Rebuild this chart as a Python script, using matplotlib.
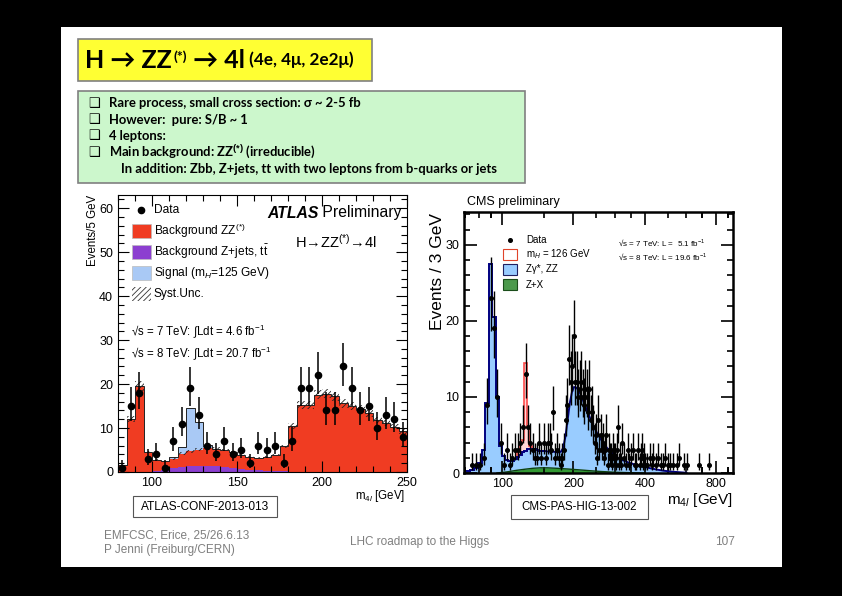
import numpy as np
import matplotlib.pyplot as plt
from matplotlib.patches import Rectangle
from matplotlib.ticker import MultipleLocator, FixedLocator, FixedFormatter, NullFormatter, LogLocator

plt.rcParams['mathtext.fontset'] = 'custom'
plt.rcParams['mathtext.rm'] = 'Liberation Sans'
plt.rcParams['mathtext.it'] = 'Liberation Sans:italic'
plt.rcParams['mathtext.bf'] = 'Liberation Sans:bold'
plt.rcParams['font.family'] = ['Liberation Sans', 'DejaVu Sans']
plt.rcParams['hatch.linewidth'] = 0.6

W, H = 842, 596

# ---- ATLAS (left panel), 5 GeV bins from 80 to 250 ----
atlas_edges = np.arange(80, 255, 5)
atlas_bkg = [1.5, 12.1, 19.5, 4.6, 2.7, 2.4, 3.0, 4.2, 4.7, 5.1, 5.5, 5.3, 5.0, 4.6, 3.8, 3.4, 3.2,
             3.4, 3.8, 5.9, 10.5, 15.3, 15.3, 17.6, 17.8, 17.2, 15.6, 15.0, 14.3, 13.4, 11.8, 11.1, 10.3, 9.3]
atlas_zjets = [0.1, 0.1, 0.1, 0.1, 0.3, 0.5, 0.8, 1.1, 1.3, 1.4, 1.4, 1.3, 1.1, 0.9, 0.7, 0.5, 0.4,
               0.3, 0.2, 0.15, 0.1, 0.1, 0.1, 0.1, 0.1, 0.1, 0.1, 0.1, 0.1, 0.1, 0.1, 0.1, 0.1, 0.1]
atlas_sig = [0, 0, 0, 0, 0, 0, 0.3, 1.5, 9.8, 6.2, 0.6, 0, 0, 0, 0, 0, 0,
             0, 0, 0, 0, 0, 0, 0, 0, 0, 0, 0, 0, 0, 0, 0, 0, 0]
atlas_data = [1, 15, 18, 3, 4, 1, 7, 11, 19, 13, 6, 4, 7, 4, 5, 2, 6,
              5, 6, 2, 7, 19, 19, 22, 14, 14, 24, 19, 14, 15, 10, 13, 12, 8]
atlas_syst = 0.06

# ---- CMS (right panel) ----
cms_edges_lo = np.arange(70, 152, 3)
cms_bkg_lo = [0.2, 0.4, 0.6, 1.3, 3.0, 9.2, 27.5, 20.5, 10.0, 3.5, 2.2, 1.7, 1.6, 1.6, 1.8,
              2.1, 2.4, 2.7, 2.9, 3.1, 3.2, 3.2, 3.1, 3.0, 2.9, 2.9, 2.9]
cms_bkg_hi_m = [151, 158, 165, 172, 177, 181, 185, 189, 193, 197, 201, 206, 211, 217, 223, 231, 241,
                252, 264, 277, 292, 307, 322, 340, 360, 380, 400, 425, 450, 480, 520, 560, 600]
cms_bkg_hi = [2.9, 2.8, 2.8, 2.7, 2.8, 3.3, 4.8, 7.0, 9.2, 10.6, 11.3, 11.2, 10.8, 10.0, 9.0, 7.8, 6.4,
              5.2, 4.2, 3.3, 2.6, 2.0, 1.7, 1.4, 1.15, 0.95, 0.8, 0.6, 0.45, 0.3, 0.18, 0.1, 0.03]
cms_sig_edges = [115, 118, 121, 124, 127, 130, 133]
cms_sig_total = [3.0, 4.0, 4.3, 14.5, 6.1, 3.5]
cms_zx_m = [95, 105, 115, 125, 135, 145, 155, 170, 190, 210, 235, 260, 300, 350, 400]
cms_zx = [0.0, 0.15, 0.35, 0.5, 0.62, 0.68, 0.68, 0.62, 0.52, 0.42, 0.3, 0.2, 0.1, 0.04, 0.0]

cms_mass = [74.5, 77.5, 80.5, 83.5, 86.5, 89.5, 92.5, 95.5, 98.5, 101.5, 104.5, 107.5, 110.5, 113.5,
            116.5, 119.5, 122.5, 125.5, 128.5, 131.5, 134.5, 137.5, 140.5, 143.5, 146.5, 149.5, 152.5,
            155.5, 158.5, 161.5, 164.5, 167.5, 170.5, 173.5, 176.5, 179.5, 182.5, 185.5, 188.5, 191.5,
            194.5, 197.5, 200.5, 203.5, 206.5, 209.5, 212.5, 215.5, 218.5, 221.5, 224.5, 227.5, 230.5,
            233.5, 236.5, 239.5, 242.5, 245.5, 248.5, 251.5, 254.5, 257.5, 260.5, 263.5, 266.5, 269.5,
            272.5, 275.5, 278.5, 281.5, 284.5, 287.5, 290.5, 293.5, 296.5, 299.5, 302.5, 305.5, 308.5,
            311.5, 314.5, 317.5, 320.5, 326.5, 332.5, 338.5, 344.5, 350.5, 356.5, 362.5, 368.5, 374.5,
            380.5, 386.5, 389.5, 392.5, 395.5, 401.5, 410.5, 419.5, 428.5, 434.5, 446.5, 455.5, 467.5,
            476.5, 488.5, 500.5, 512.5, 524.5, 548.5, 560.5, 584.5, 602.5, 680.5, 743.5]
cms_counts = [1, 1, 1, 2, 9, 23, 19, 10, 4, 1, 3, 1, 2, 3,
              3, 4, 6, 13, 6, 4, 3, 2, 2, 4, 2, 4, 2,
              4, 4, 3, 8, 2, 3, 2, 1, 2, 3, 7, 9, 15,
              12, 14, 18, 12, 12, 10, 11, 12, 10, 9, 11, 10, 8,
              11, 7, 8, 6, 4, 5, 2, 7, 3, 5, 3, 4, 2,
              3, 5, 1, 3, 2, 2, 1, 3, 2, 2, 1, 3, 6,
              1, 2, 1, 4, 2, 1, 3, 1, 2, 3, 1, 1, 3,
              1, 2, 3, 1, 2, 1, 1, 2, 1, 2, 1, 2, 1,
              1, 2, 1, 1, 1, 1, 2, 1, 1, 1, 1]


def px_box(x0, y0, x1, y1):
    return [x0 / W, 1 - y1 / H, (x1 - x0) / W, (y1 - y0) / H]


def poisson_err(n):
    n = np.asarray(n, float)
    lo = np.where(n > 0, np.sqrt(n + 0.25) - 0.5, 0)
    hi = np.sqrt(n + 0.25) + 0.5
    return lo, hi


fig = plt.figure(figsize=(W / 100, H / 100), dpi=100, facecolor='black')

# slide background
bg = fig.add_axes([0, 0, 1, 1])
bg.set_xlim(0, W)
bg.set_ylim(H, 0)
bg.axis('off')
bg.add_patch(Rectangle((61, 27), 721, 540, facecolor='white', edgecolor='none'))
bg.add_patch(Rectangle((78, 39), 294, 42, facecolor='#ffff33', edgecolor='#808080', lw=1.2))
bg.add_patch(Rectangle((78, 91), 447, 92, facecolor='#ccf7cc', edgecolor='#808080', lw=1.2))

tfam = ['Lato', 'DejaVu Sans']
t1 = bg.text(85, 68, 'H → ZZ', family=tfam, weight='bold', fontsize=18, va='baseline')
t2 = bg.annotate('(*)', xy=(1, 1), xycoords=t1, xytext=(1, -1), textcoords='offset points',
                 family=tfam, weight='bold', fontsize=10, va='top', ha='left')
t3 = bg.annotate(' → 4l', xy=(1, 0), xycoords=(t2, t1), family=tfam, weight='bold',
                 fontsize=18, va='bottom', ha='left')
bg.annotate(' (4e, 4μ, 2e2μ)', xy=(1, 0), xycoords=t3, xytext=(0, 3), textcoords='offset points',
            family=tfam, weight='bold', fontsize=12.3, va='bottom', ha='left')

bullets = ['Rare process, small cross section: σ ~ 2-5 fb',
           'However:  pure: S/B ~ 1',
           '4 leptons:',
           'Main background: ZZ$^{\\mathbf{(*)}}$ (irreducible)']
for i, line in enumerate(bullets):
    y = 103 + i * 16.5
    bg.text(88, y, '❑', family=['DejaVu Sans'], fontsize=9.5, va='center')
    fam = 'Lato' if '$' in line else tfam
    bg.text(109, y, line, family=fam, weight='bold', fontsize=9.4, va='center')
bg.text(121, 169, 'In addition: Zbb, Z+jets, tt with two leptons from b-quarks or jets',
        family=tfam, weight='bold', fontsize=9.4, va='center')

# footer
bg.text(104, 535, 'EMFCSC, Erice, 25/26.6.13', fontsize=8.5, color='#7f7f7f', va='center')
bg.text(104, 550, 'P Jenni (Freiburg/CERN)', fontsize=8.5, color='#7f7f7f', va='center')
bg.text(420, 542, 'LHC roadmap to the Higgs', fontsize=8.5, color='#7f7f7f', va='center', ha='center')
bg.text(735, 542, '107', fontsize=8.5, color='#7f7f7f', va='center', ha='right')

# ---------------- ATLAS ----------------
ax1 = fig.add_axes(px_box(118, 195, 407, 472))
ax1.patch.set_alpha(0)
bkg = np.array(atlas_bkg)
zj = np.array(atlas_zjets)
tot = bkg + np.array(atlas_sig)
ax1.stairs(zj, atlas_edges, fill=True, color='#8c3fd0', lw=0)
ax1.stairs(bkg, atlas_edges, baseline=zj, fill=True, color='#f03c22', lw=0)
ax1.stairs(tot, atlas_edges, baseline=bkg, fill=True, color='#a9c9f5', lw=0)
ax1.stairs(tot, atlas_edges, baseline=None, color='#222222', lw=0.7)
ax1.stairs(bkg * (1 + atlas_syst), atlas_edges, baseline=bkg * (1 - atlas_syst), fill=True,
           facecolor='none', edgecolor='#222222', hatch='//////', lw=0)
centers = 0.5 * (atlas_edges[1:] + atlas_edges[:-1])
lo, hi = poisson_err(atlas_data)
ax1.errorbar(centers, atlas_data, yerr=[lo, hi], fmt='o', color='black', ms=4.5, elinewidth=1.1,
             capsize=0, zorder=5)
ax1.set_xlim(80, 250)
ax1.set_ylim(0, 63)
ax1.xaxis.set_major_locator(FixedLocator([100, 150, 200, 250]))
ax1.xaxis.set_minor_locator(MultipleLocator(10))
ax1.yaxis.set_major_locator(MultipleLocator(10))
ax1.yaxis.set_minor_locator(MultipleLocator(2))
ax1.tick_params(which='both', direction='in', top=True, right=True, labelsize=9, width=0.8)
ax1.tick_params(which='major', length=8)
ax1.tick_params(which='minor', length=4)
for s in ax1.spines.values():
    s.set_linewidth(0.8)
ax1.set_ylabel('Events/5 GeV', loc='top', fontsize=8.3)
ax1.yaxis.set_label_coords(-0.066, 1.0)
ax1.set_xlabel('m$_{4l}$ [GeV]', loc='right', fontsize=8.3)
ax1.xaxis.set_label_coords(0.993, -0.058)

# ---------------- CMS ----------------
ax2 = fig.add_axes(px_box(464, 212, 733, 473))
ax2.patch.set_alpha(0)
ax2.set_xscale('log')
ax2.stairs(cms_bkg_lo, cms_edges_lo, fill=True, color='#99ccff', lw=0)
ax2.fill_between(cms_bkg_hi_m, cms_bkg_hi, color='#99ccff', lw=0)
sig_base = np.array(cms_bkg_lo[15:21])
ax2.stairs(cms_sig_total, cms_sig_edges, baseline=sig_base, fill=True, color='#ffd6d6', lw=0)
ax2.stairs(cms_sig_total, cms_sig_edges, baseline=sig_base, color='#ff4a4a', lw=1.2)
ax2.stairs(cms_bkg_lo, cms_edges_lo, baseline=None, color='#000080', lw=1.4)
ax2.plot(cms_bkg_hi_m, cms_bkg_hi, color='#000080', lw=1.4)
ax2.fill_between(cms_zx_m, cms_zx, color='#339933', lw=0)
ax2.plot(cms_zx_m, cms_zx, color='#0d400d', lw=1.0)
lo, hi = poisson_err(cms_counts)
ax2.errorbar(cms_mass, cms_counts, yerr=[lo, hi], fmt='o', color='black', ms=2.6, elinewidth=1.0,
             capsize=0, zorder=5)
ax2.set_xlim(69, 943)
ax2.set_ylim(0, 34.3)
ax2.xaxis.set_major_locator(FixedLocator([100, 200, 400, 800]))
ax2.xaxis.set_major_formatter(FixedFormatter(['100', '200', '400', '800']))
ax2.xaxis.set_minor_locator(LogLocator(base=10, subs=(0.7, 0.8, 0.9, 1.5, 2.5, 3, 3.5, 5, 6, 7, 9)))
ax2.xaxis.set_minor_formatter(NullFormatter())
ax2.yaxis.set_major_locator(MultipleLocator(10))
ax2.yaxis.set_minor_locator(MultipleLocator(2))
ax2.tick_params(which='both', direction='in', top=True, right=True, labelsize=9, width=1.2)
ax2.tick_params(which='major', length=9)
ax2.tick_params(which='minor', length=4.5)
for s in ax2.spines.values():
    s.set_linewidth(1.8)
ax2.set_ylabel('Events / 3 GeV', loc='top', fontsize=12.5)
ax2.yaxis.set_label_coords(-0.07, 0.996)
ax2.set_xlabel('m$_{4l}$ [GeV]', loc='right', fontsize=11)
ax2.xaxis.set_label_coords(1.0, -0.07)

# ---------------- overlay: legends, captions ----------------
fg = fig.add_axes([0, 0, 1, 1])
fg.set_xlim(0, W)
fg.set_ylim(H, 0)
fg.axis('off')

# ATLAS legend
fg.plot([141], [210], 'o', color='black', ms=4.5)
fg.text(154, 210, 'Data', fontsize=8.6, va='center')
leg = [('#f03c22', 'Background ZZ$^{(*)}$', 224),
       ('#8c3fd0', 'Background Z+jets, $\\mathrm{t\\bar{t}}$', 245),
       ('#a9c9f5', 'Signal (m$_{H}$=125 GeV)', 266)]
for col, lab, y in leg:
    fg.add_patch(Rectangle((132, y), 19, 14, facecolor=col, edgecolor='#bbbbbb', lw=0.5))
    fg.text(154, y + 7, lab, fontsize=8.6, va='center')
fg.add_patch(Rectangle((132, 287), 19, 14, facecolor='none', edgecolor='#333333', hatch='//////', lw=0))
fg.text(154, 294, 'Syst.Unc.', fontsize=8.6, va='center')
ta = fg.text(267, 213, 'ATLAS', fontsize=11.3, va='center', fontstyle='italic', fontweight='bold')
fg.annotate(' Preliminary', xy=(1, 0.5), xycoords=ta, fontsize=11.3, va='center', ha='left')
fg.text(295, 242, 'H→ZZ$^{(*)}$→4l', fontsize=10.5, va='center')
fg.text(131, 331, '√s = 7 TeV: ∫Ldt = 4.6 fb$^{-1}$', fontsize=8.3, va='center')
fg.text(131, 353, '√s = 8 TeV: ∫Ldt = 20.7 fb$^{-1}$', fontsize=8.3, va='center')
fg.add_patch(Rectangle((133, 496), 144, 21, facecolor='white', edgecolor='#555555', lw=0.8))
fg.text(205, 507, 'ATLAS-CONF-2013-013', fontsize=8.6, va='center', ha='center')

# CMS legend
fg.text(467, 202, 'CMS preliminary', fontsize=9, va='center')
fg.plot([510], [240], 'o', color='black', ms=2.6)
fg.text(526, 240, 'Data', fontsize=7, va='center')
cms_leg = [('white', '#e0442a', 'm$_{H}$ = 126 GeV', 249),
           ('#99ccff', '#202060', 'Zγ*, ZZ', 264),
           ('#4c9a4c', '#1a4d1a', 'Z+X', 279)]
for fc, ec, lab, y in cms_leg:
    fg.add_patch(Rectangle((503, y), 14, 11, facecolor=fc, edgecolor=ec, lw=0.8))
    fg.text(526, y + 5.5, lab, fontsize=7, va='center')
fg.text(618, 243, '√s = 7 TeV: L =  5.1 fb$^{-1}$', fontsize=5.8, va='center')
fg.text(618, 257, '√s = 8 TeV: L = 19.6 fb$^{-1}$', fontsize=5.8, va='center')
fg.add_patch(Rectangle((511, 495), 137, 24, facecolor='white', edgecolor='#555555', lw=0.8))
fg.text(579.5, 507, 'CMS-PAS-HIG-13-002', fontsize=8.3, va='center', ha='center')

fig.savefig('out.png', dpi=100, facecolor='black')
